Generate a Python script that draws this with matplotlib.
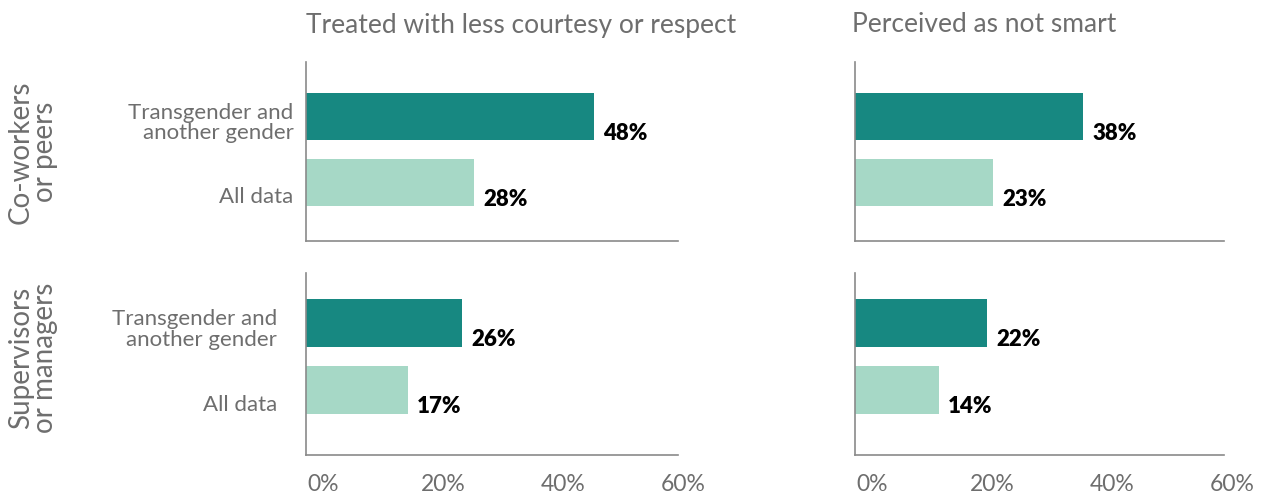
import matplotlib.pyplot as plt
import matplotlib.transforms as mtransforms

# Share of respondents reporting each experience, by source
groups = ["Transgender and\nanother gender", "All data"]
row_labels = ["Co-workers\nor peers", "Supervisors\nor managers"]
col_titles = ["Treated with less courtesy or respect", "Perceived as not smart"]

coworkers_courtesy = [48, 28]
coworkers_smart = [38, 23]
supervisors_courtesy = [26, 17]
supervisors_smart = [22, 14]

x_ticks = [0, 20, 40, 60]
x_tick_labels = ["0%", "20%", "40%", "60%"]

dark = "#178881"
light = "#a6d8c6"
gray_text = "#6e6e6e"
spine_gray = "#8a8a8a"

plt.rcParams["font.family"] = ["Lato", "DejaVu Sans"]

fig = plt.figure(figsize=(12.64, 4.97), dpi=100)

W, H = 1264, 497


def px_axes(x0, y0, x1, y1):
    return fig.add_axes([x0 / W, 1 - y1 / H, (x1 - x0) / W, (y1 - y0) / H])


def shifted(artist, dx_px, dy_px):
    off = mtransforms.ScaledTranslation(dx_px / 100, dy_px / 100, fig.dpi_scale_trans)
    artist.set_transform(artist.get_transform() + off)


panels = [
    (px_axes(306, 62, 678, 241), coworkers_courtesy, 62, (1.89, -0.83), True, 9, False),
    (px_axes(855, 62, 1224, 241), coworkers_smart, 61.5, (1.89, -0.83), False, 9, False),
    (px_axes(306, 273, 678, 455), supervisors_courtesy, 62, (1.96, -0.74), True, 21, True),
    (px_axes(855, 273, 1224, 455), supervisors_smart, 61.5, (1.96, -0.74), False, 21, True),
]

# nudge the category labels a little below the bar centres
ylabel_drop = [-4, -13]

for ax, values, xmax, ylim, show_y, ypad, show_x in panels:
    ypos = list(range(len(values)))
    ax.barh(ypos, values, height=0.71, color=[dark, light])
    ax.set_xlim(0, xmax)
    ax.set_ylim(*ylim)
    for y, v in zip(ypos, values):
        ax.annotate(f"{v}%", (v, y), xytext=(6.5, -12), textcoords="offset points",
                    ha="left", va="center", fontsize=16, fontweight="heavy",
                    color="black")
    for side in ["top", "right"]:
        ax.spines[side].set_visible(False)
    for side in ["left", "bottom"]:
        ax.spines[side].set_color(spine_gray)
        ax.spines[side].set_linewidth(1.2)
    ax.tick_params(axis="both", length=0)
    if show_y:
        ax.set_yticks(ypos)
        ax.set_yticklabels(groups, fontsize=16, color=gray_text, ha="right",
                           multialignment="right", linespacing=1.05)
        ax.tick_params(axis="y", pad=ypad)
        for lbl, dy in zip(ax.get_yticklabels(), ylabel_drop):
            shifted(lbl, 0, dy)
    else:
        ax.set_yticks([])
    if show_x:
        ax.set_xticks(x_ticks)
        ax.set_xticklabels(x_tick_labels, fontsize=16.5, color=gray_text)
        ax.tick_params(axis="x", pad=14)
        for lbl in ax.get_xticklabels():
            shifted(lbl, 17, 0)
    else:
        ax.set_xticks([])

# Column titles
fig.text(306 / W, 1 - 25 / H, col_titles[0], fontsize=19, color=gray_text,
         ha="left", va="center")
fig.text(852 / W, 1 - 25 / H, col_titles[1], fontsize=19, color=gray_text,
         ha="left", va="center")

# Row labels
fig.text(33 / W, 1 - 152 / H, row_labels[0], fontsize=20, color=gray_text,
         rotation=90, ha="center", va="center", linespacing=0.9)
fig.text(33 / W, 1 - 358 / H, row_labels[1], fontsize=20, color=gray_text,
         rotation=90, ha="center", va="center", linespacing=0.9)

fig.savefig("out.png", dpi=100)
